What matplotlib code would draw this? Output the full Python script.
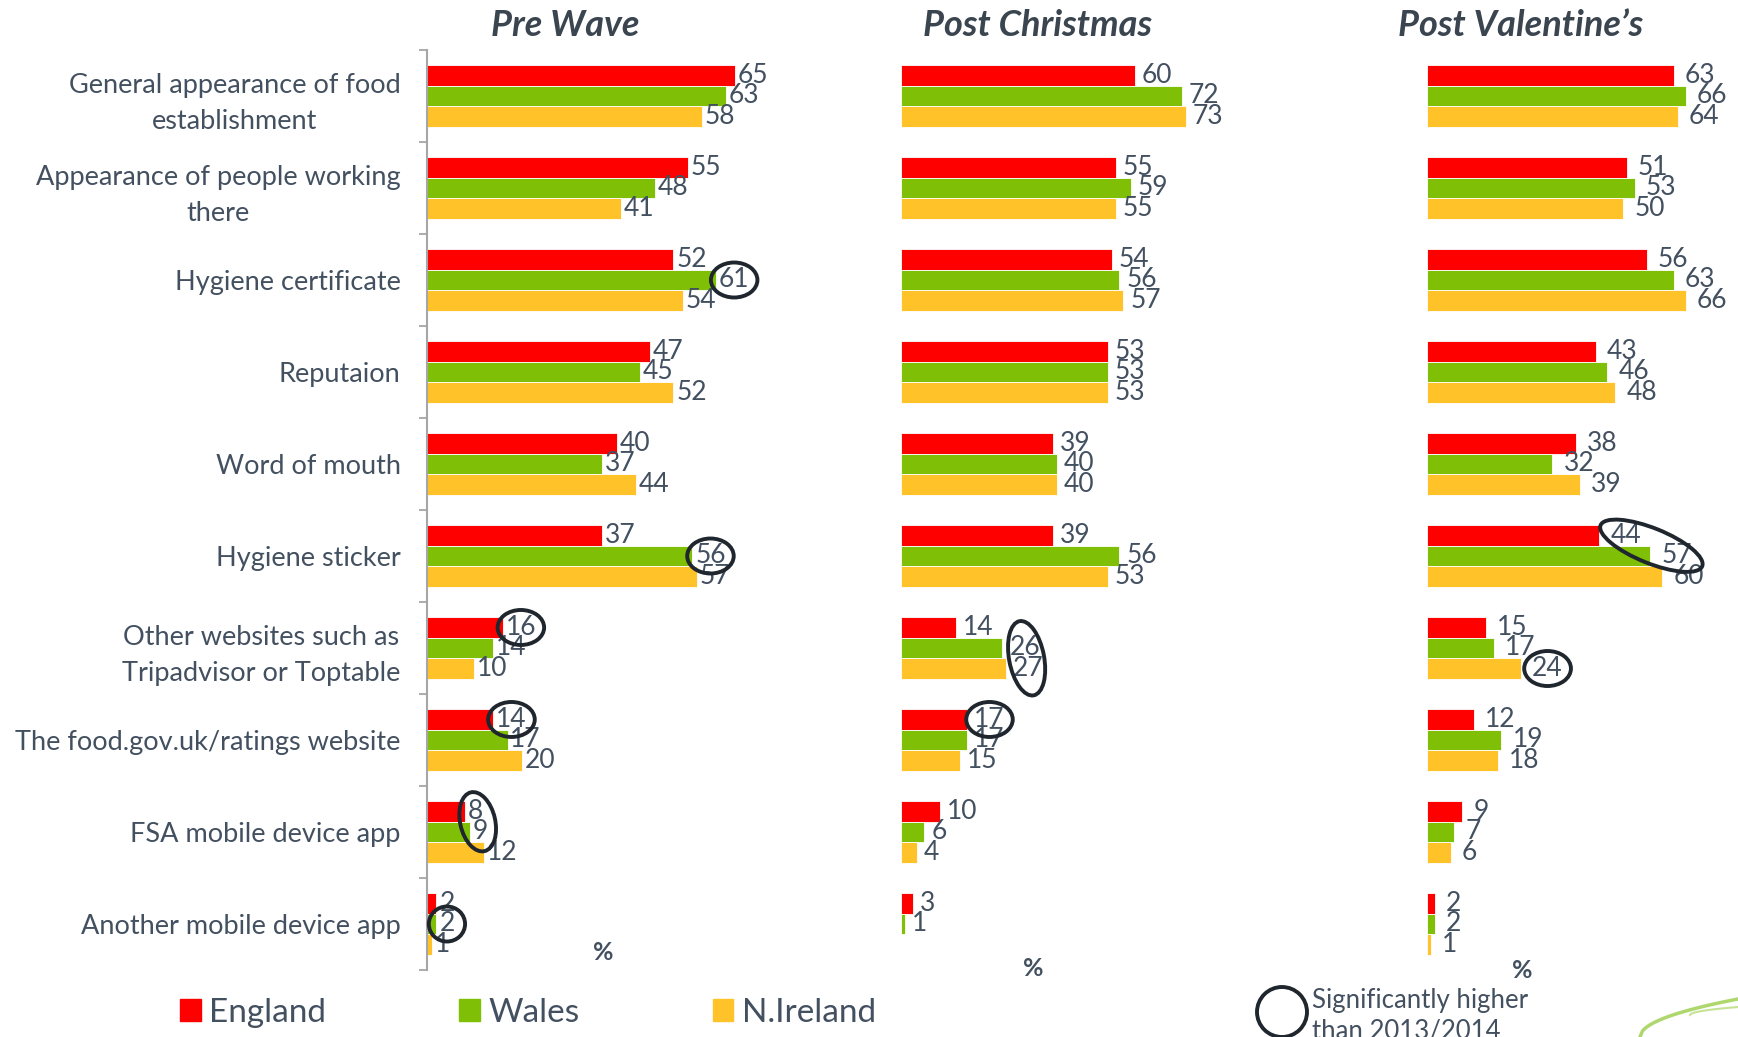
import numpy as np
import matplotlib.pyplot as plt
from matplotlib.patches import Ellipse, Patch
from matplotlib.transforms import IdentityTransform
from matplotlib.lines import Line2D

plt.rcParams['font.family'] = ['Lato', 'DejaVu Sans']

categories = [
    'General appearance of food\nestablishment',
    'Appearance of people working\nthere',
    'Hygiene certificate',
    'Reputaion',
    'Word of mouth',
    'Hygiene sticker',
    'Other websites such as\nTripadvisor or Toptable',
    'The food.gov.uk/ratings website',
    'FSA mobile device app',
    'Another mobile device app',
]
waves = ['Pre Wave', 'Post Christmas', 'Post Valentine\u2019s']
series_names = ['England', 'Wales', 'N.Ireland']
series_colors = ['#FF0000', '#7FBF06', '#FFC229']

england_pre = [65, 55, 52, 47, 40, 37, 16, 14, 8, 2]
wales_pre = [63, 48, 61, 45, 37, 56, 14, 17, 9, 2]
nireland_pre = [58, 41, 54, 52, 44, 57, 10, 20, 12, 1]

england_christmas = [60, 55, 54, 53, 39, 39, 14, 17, 10, 3]
wales_christmas = [72, 59, 56, 53, 40, 56, 26, 17, 6, 1]
nireland_christmas = [73, 55, 57, 53, 40, 53, 27, 15, 4, np.nan]

england_valentine = [63, 51, 56, 43, 38, 44, 15, 12, 9, 2]
wales_valentine = [66, 53, 63, 46, 32, 57, 17, 19, 7, 2]
nireland_valentine = [64, 50, 66, 48, 39, 60, 24, 18, 6, 1]

# significantly higher than 2013/2014: (wave, category, series...)
sig_higher = [
    (0, 2, (1,)), (0, 5, (1,)), (0, 6, (0,)), (0, 7, (0,)), (0, 8, (0, 1)),
    (0, 9, (1,)), (1, 6, (1, 2)), (1, 7, (0,)), (2, 5, (0, 1)), (2, 6, (2,)),
]

TEXT = '#435060'
TITLE = '#3A4550'
W, H = 1738, 1037
fig = plt.figure(figsize=(W / 100, H / 100), dpi=100)

# left edge px, px per unit, x max, series, label padding
panels = [
    (427, 4.74, 80, [england_pre, wales_pre, nireland_pre], 2),
    (901, 3.90, 80, [england_christmas, wales_christmas, nireland_christmas], 5),
    (1427, 3.92, 75, [england_valentine, wales_valentine, nireland_valentine], 8),
]
top_px, bottom_px = 50, 970
y = np.arange(len(categories))
bar_h = 0.223
offsets = [-bar_h, 0, bar_h]

value_labels = []
for i, (x0, scale, xmax, series, pad) in enumerate(panels):
    ax = fig.add_axes([x0 / W, 1 - bottom_px / H, xmax * scale / W,
                       (bottom_px - top_px) / H])
    texts = []
    for k, vals in enumerate(series):
        bars = ax.barh(y + offsets[k], vals, height=bar_h, color=series_colors[k],
                       edgecolor='white', linewidth=0.6)
        labels = ['' if np.isnan(v) else f'{v:g}' for v in vals]
        texts.append(ax.bar_label(bars, labels=labels, padding=pad,
                                  fontsize=19, color=TEXT))
    value_labels.append(texts)
    ax.set_xlim(0, xmax)
    ax.set_ylim(len(categories) - 0.5, -0.5)
    ax.set_xticks([])
    for s in ax.spines.values():
        s.set_visible(False)
    if i == 0:
        ax.set_yticks(y, categories, fontsize=19.5, color=TEXT,
                      multialignment='center', linespacing=1.55)
        ax.set_yticks(np.arange(-0.5, len(categories)), minor=True)
        ax.tick_params(axis='y', which='major', length=0, pad=19)
        ax.tick_params(axis='y', which='minor', length=6, width=1.3, color='#A6A6A6')
        ax.spines['left'].set_visible(True)
        ax.spines['left'].set_color('#A6A6A6')
        ax.spines['left'].set_linewidth(1.5)
    else:
        ax.set_yticks([])

# wave titles and % marks
for name, cx in zip(waves, [565, 1038, 1521]):
    fig.text(cx / W, 1 - 26 / H, name, fontsize=26, fontweight='bold',
             fontstyle='italic', ha='center', va='center', color=TITLE)
for px, py in [(603, 953), (1033, 968), (1522, 971)]:
    fig.text(px / W, 1 - py / H, '%', fontsize=18, fontweight='bold',
             ha='center', va='center', color=TEXT)

handles = [Patch(color=c) for c in series_colors]
fig.legend(handles, series_names, loc='center left',
           bbox_to_anchor=(180 / W, 1 - 1013 / H), ncol=3, frameon=False,
           fontsize=24, handlelength=0.62, handleheight=0.62, handletextpad=0.25,
           columnspacing=4.0, borderpad=0, borderaxespad=0, labelcolor=TEXT)

# key for the circles
fig.add_artist(Ellipse((1282, H - 1012), 50, 50, fill=False, lw=2.8,
                       ec='#1F262D', transform=IdentityTransform()))
fig.text(1312 / W, 1 - 988 / H, 'Significantly higher\nthan 2013/2014',
         fontsize=18.5, va='top', ha='left', color=TEXT, linespacing=1.25)

# green swoosh in the corner
t = np.linspace(0, 1, 40)
fig.add_artist(Line2D(1640 + 98 * t, 0 + 38 * np.sqrt(t), color='#9ACD4A',
                      lw=2.5, alpha=0.8, transform=IdentityTransform()))
fig.add_artist(Line2D(1690 + 48 * t, 22 + 8 * t ** 0.5, color='#B7DC7A',
                      lw=1.5, alpha=0.8, transform=IdentityTransform()))

# circle the significant labels
fig.canvas.draw()
renderer = fig.canvas.get_renderer()
for wave, cat, ser in sig_higher:
    boxes = [value_labels[wave][s][cat].get_window_extent(renderer) for s in ser]
    if len(boxes) == 1:
        b = boxes[0]
        cx, cy = (b.x0 + b.x1) / 2, (b.y0 + b.y1) / 2
        ew = max(b.width + 16, b.height * 1.45)
        eh = b.height * 1.4
        angle = 0
    else:
        c = [((b.x0 + b.x1) / 2, (b.y0 + b.y1) / 2) for b in boxes]
        cx, cy = (c[0][0] + c[1][0]) / 2, (c[0][1] + c[1][1]) / 2
        dx, dy = c[1][0] - c[0][0], c[1][1] - c[0][1]
        angle = np.degrees(np.arctan2(dy, dx))
        ew = np.hypot(dx, dy) + max(b.width for b in boxes) + 24
        eh = boxes[0].height * 1.4
    fig.add_artist(Ellipse((cx, cy), ew, eh, angle=angle, fill=False, lw=2.8,
                           ec='#1F262D', transform=IdentityTransform()))

fig.savefig('out.png', dpi=100)
